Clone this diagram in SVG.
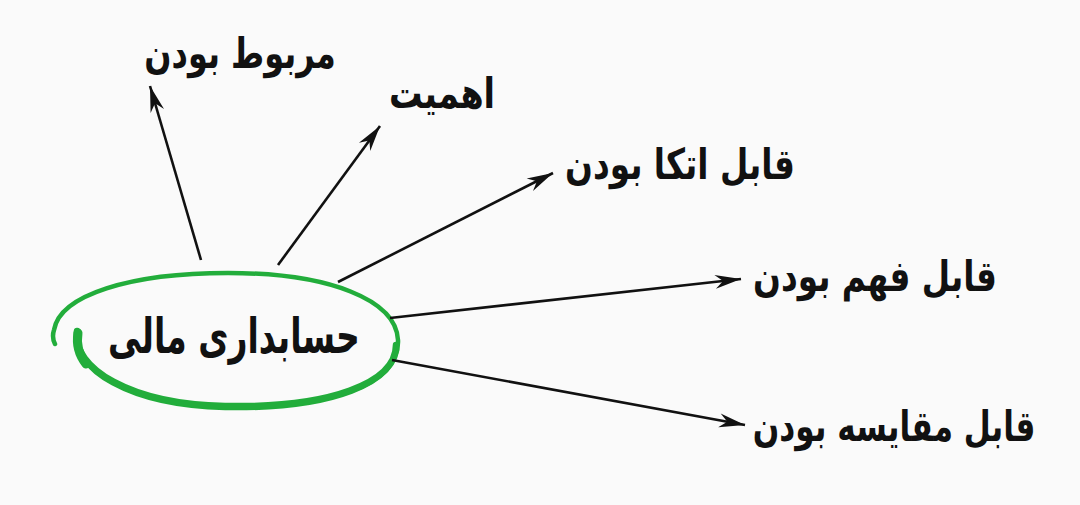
<svg xmlns="http://www.w3.org/2000/svg" width="1080" height="505" viewBox="0 0 1080 505">
<style>
.lbl{font-family:"DejaVu Sans","Noto Sans",sans-serif;font-size:38px;font-weight:bold;fill:#111;text-anchor:middle}
.ctr{font-size:44px}
.con{stroke:#111;stroke-width:2.6;fill:none}
.ring{fill:none;stroke:#22ad3b;stroke-linecap:round}
</style>
<defs>
<marker id="ah" markerUnits="userSpaceOnUse" markerWidth="32" markerHeight="20" viewBox="-26 -10 28 20" refX="0" refY="0" orient="auto">
<path d="M0,0 L-26,-7 L-18,0 L-26,7 Z" fill="#111"/>
</marker>
</defs>
<rect width="1080" height="505" fill="#fafafa"/>
<g id="center">
<path class="ring" stroke-width="4.5" d="M77,331 C70,370 130,406 225,408 C330,410 400,385 398,340 C396,300 330,273 228,273 C130,273 60,295 54,330 C52,336 53,340 55,344"/>
<path class="ring" stroke-width="6.5" d="M77,331 C72,368 130,404 225,406 C330,408 396,383 396,345"/>
<path class="ring" stroke-width="9" d="M78,333 C76,345 79,355 86,364"/>
<text class="lbl ctr" transform="translate(234,353) scale(0.75,1.1)">حسابداری مالی</text>
</g>
<g id="connectors">
<line class="con" x1="201" y1="260" x2="150" y2="86" marker-end="url(#ah)"/>
<line class="con" x1="278" y1="265" x2="380" y2="126" marker-end="url(#ah)"/>
<line class="con" x1="338" y1="282" x2="553" y2="173" marker-end="url(#ah)"/>
<line class="con" x1="390" y1="318" x2="741" y2="279" marker-end="url(#ah)"/>
<line class="con" x1="392" y1="360" x2="745" y2="425" marker-end="url(#ah)"/>
</g>
<g id="n1"><text class="lbl" transform="translate(240,68) scale(0.84,1.12)">مربوط بودن</text></g>
<g id="n2"><text class="lbl" transform="translate(442,108) scale(0.88,1.12)">اهمیت</text></g>
<g id="n3"><text class="lbl" transform="translate(680,179) scale(0.86,1.12)">قابل اتکا بودن</text></g>
<g id="n4"><text class="lbl" transform="translate(875,291) scale(0.86,1.12)">قابل فهم بودن</text></g>
<g id="n5"><text class="lbl" transform="translate(894,441) scale(0.82,1.12)">قابل مقایسه بودن</text></g>
</svg>
